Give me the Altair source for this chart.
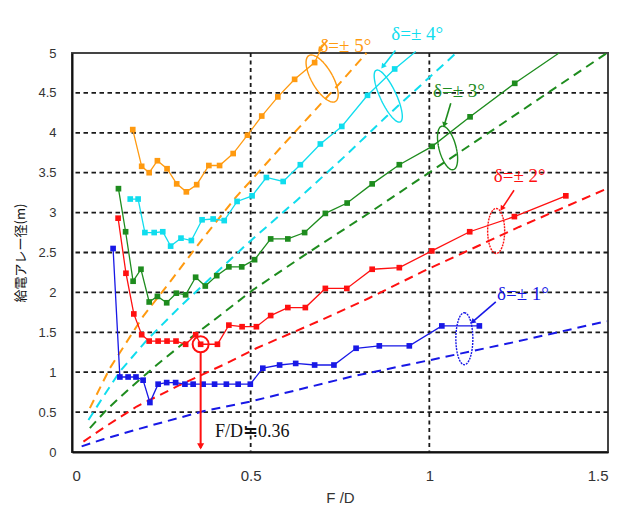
import math

import altair as alt
import pandas as pd

# ---- measured feed-array diameter (m) against F/D, one pair per pointing error ----
D5_X = [0.170, 0.195, 0.216, 0.239, 0.266, 0.293, 0.320, 0.349, 0.383, 0.413, 0.451,
        0.491, 0.531, 0.576, 0.623, 0.679]
D5_Y = [4.04, 3.58, 3.50, 3.65, 3.55, 3.36, 3.26, 3.35, 3.59, 3.59, 3.74,
        3.97, 4.21, 4.45, 4.67, 4.88]
D5_END = [(0.697, 5.05)]

D4_X = [0.163, 0.185, 0.204, 0.230, 0.254, 0.276, 0.305, 0.334, 0.364, 0.395, 0.426,
        0.462, 0.504, 0.544, 0.591, 0.639, 0.695, 0.755, 0.827, 0.903]
D4_Y = [3.17, 3.17, 2.75, 2.75, 2.76, 2.58, 2.68, 2.65, 2.91, 2.92, 2.90,
        3.14, 3.21, 3.44, 3.39, 3.60, 3.86, 4.08, 4.47, 4.80]
D4_END = [(0.962, 5.02)]

D3_X = [0.130, 0.150, 0.171, 0.193, 0.216, 0.239, 0.265, 0.292, 0.318, 0.346, 0.373,
        0.405, 0.439, 0.475, 0.511, 0.556, 0.604, 0.651, 0.709, 0.770, 0.840, 0.916,
        1.008, 1.114, 1.239]
D3_Y = [3.30, 2.76, 2.14, 2.29, 1.88, 1.95, 1.87, 1.99, 1.97, 2.19, 2.08,
        2.21, 2.32, 2.32, 2.41, 2.67, 2.67, 2.75, 2.99, 3.12, 3.36, 3.60,
        3.83, 4.20, 4.62]
D3_END = [(1.363, 5.00)]

D2_X = [0.129, 0.151, 0.173, 0.195, 0.216, 0.241, 0.266, 0.291, 0.318, 0.346, 0.360,
        0.407, 0.439, 0.476, 0.516, 0.556, 0.604, 0.653, 0.709, 0.769, 0.840, 0.916,
        1.007, 1.113, 1.238, 1.382]
D2_Y = [2.93, 2.24, 1.73, 1.47, 1.39, 1.39, 1.39, 1.39, 1.35, 1.47, 1.35,
        1.35, 1.59, 1.57, 1.57, 1.71, 1.81, 1.81, 2.05, 2.05, 2.29, 2.31,
        2.52, 2.76, 2.95, 3.21]

D1_X = [0.115, 0.134, 0.157, 0.179, 0.199, 0.218, 0.241, 0.265, 0.290, 0.316, 0.339,
        0.367, 0.399, 0.432, 0.465, 0.499, 0.534, 0.581, 0.626, 0.679, 0.733, 0.795,
        0.860, 0.944, 1.035, 1.140]
D1_Y = [2.55, 0.94, 0.94, 0.94, 0.90, 0.62, 0.85, 0.87, 0.87, 0.85, 0.85,
        0.85, 0.85, 0.85, 0.85, 0.85, 1.05, 1.09, 1.11, 1.09, 1.09, 1.30,
        1.33, 1.33, 1.58, 1.58]

# ---- theoretical curves (dashed) ----
T5_X = [0.050, 0.106, 0.199, 0.274, 0.367, 0.460, 0.581, 0.749, 0.824]
T5_Y = [0.55, 1.05, 1.70, 2.13, 2.68, 3.20, 3.80, 4.62, 5.00]
T4_X = [0.046, 0.087, 0.134, 0.209, 0.302, 0.488, 0.628, 0.767, 0.879, 1.075]
T4_Y = [0.40, 0.69, 1.01, 1.40, 1.82, 2.60, 3.15, 3.72, 4.20, 5.00]
T3_X = [0.050, 0.097, 0.162, 0.237, 0.311, 0.385, 0.506, 0.665, 0.823, 1.009, 1.186, 1.497]
T3_Y = [0.30, 0.53, 0.80, 1.09, 1.36, 1.61, 2.03, 2.51, 2.97, 3.53, 4.06, 5.00]
T2_X = [0.032, 0.087, 0.181, 0.302, 0.432, 0.516, 0.711, 0.832, 0.981, 1.251, 1.497]
T2_Y = [0.13, 0.30, 0.57, 0.84, 1.11, 1.30, 1.68, 1.93, 2.26, 2.82, 3.30]
T1_X = [0.027, 0.087, 0.227, 0.367, 0.497, 0.777, 1.000, 1.251, 1.497]
T1_Y = [0.07, 0.16, 0.34, 0.51, 0.63, 0.94, 1.15, 1.39, 1.64]

SERIES = ["±5°", "±4°", "±3°", "±2°", "±1°"]
COLORS = ["#FF9A10", "#10DDEE", "#1E8C1E", "#FF1010", "#1818E6"]

# ---- callouts ----
LABEL_TEXT = ["δ=± 5°", "δ=± 4°", "δ=± 3°", "δ=± 2°", "δ=± 1°"]
LABEL_X = [0.765, 0.966, 1.083, 1.253, 1.262]
LABEL_Y = [5.09, 5.24, 4.52, 3.46, 1.98]
ARROW_X0 = [0.715, 0.905, 1.060, 1.237, 1.186]
ARROW_Y0 = [5.16, 5.03, 4.37, 3.28, 1.88]
ARROW_X1 = [0.693, 0.870, 1.042, 1.203, 1.121]
ARROW_Y1 = [5.04, 4.83, 4.10, 3.05, 1.63]
ELL_X = [0.700, 0.885, 1.051, 1.187, 1.098]
ELL_Y = [4.68, 4.46, 3.81, 2.77, 1.42]
ELL_A = [26.5, 28.5, 22.5, 22.5, 26.0]
ELL_B = [10.5, 8.0, 8.5, 8.5, 8.5]
ELL_ANGLE = [330, 335, 345, 0, 0]
ELL_DASH = [[1, 0], [1, 0], [1, 0], [2, 1], [2, 1]]

FD_OPT = 0.36
FD_OPT_D = 1.35
FD_TEXT = "F/D≒0.36"

GRID_X = [0.5, 1.0]
GRID_Y = [0.5, 1.0, 1.5, 2.0, 2.5, 3.0, 3.5, 4.0, 4.5]
X_TICKS = [0, 0.5, 1, 1.5]
Y_TICKS = [0, 0.5, 1, 1.5, 2, 2.5, 3, 3.5, 4, 4.5, 5]

W, H = 536, 399
X_MAX, Y_MAX = 1.5, 5.0

x_scale = alt.Scale(domain=[0, X_MAX], nice=False, zero=False)
y_scale = alt.Scale(domain=[0, Y_MAX], nice=False, zero=False)
x_axis = alt.Axis(values=X_TICKS, format="~g", grid=False, ticks=False,
                  domainColor="#111", domainWidth=2, labelFontSize=15,
                  labelColor="#333", labelPadding=16, labelFont="Liberation Sans",
                  title="F /D", titleFontSize=15, titleFontWeight="normal",
                  titleColor="#333", titlePadding=7, titleFont="Liberation Sans")
y_axis = alt.Axis(values=Y_TICKS, format="~g", grid=False, ticks=False,
                  domainColor="#111", domainWidth=2, labelFontSize=13,
                  labelColor="#333", labelPadding=16, labelFont="Liberation Sans",
                  title="給電アレー径(m)", titleFont="Noto Sans CJK JP",
                  titleFontSize=13, titleFontWeight="normal", titleColor="#111",
                  titleX=-52, titleY=H / 2, titleAlign="center",
                  titleBaseline="middle", titleAngle=-90)


def X(field, **kw):
    return alt.X(field, scale=x_scale, axis=x_axis, **kw)


def Y(field, **kw):
    return alt.Y(field, scale=y_scale, axis=y_axis, **kw)


color = alt.Color("delta:N", scale=alt.Scale(domain=SERIES, range=COLORS), legend=None)


def frame(key, xs, ys):
    return pd.DataFrame({"fd": xs, "d": ys, "delta": key})


measured = [(SERIES[0], D5_X, D5_Y, D5_END), (SERIES[1], D4_X, D4_Y, D4_END),
            (SERIES[2], D3_X, D3_Y, D3_END), (SERIES[3], D2_X, D2_Y, []),
            (SERIES[4], D1_X, D1_Y, [])]
theory = [(SERIES[0], T5_X, T5_Y), (SERIES[1], T4_X, T4_Y), (SERIES[2], T3_X, T3_Y),
          (SERIES[3], T2_X, T2_Y), (SERIES[4], T1_X, T1_Y)]

marks_df = pd.concat([frame(k, xs, ys) for k, xs, ys, _ in measured], ignore_index=True)
lines_df = pd.concat(
    [frame(k, xs + [p[0] for p in end], ys + [p[1] for p in end]) for k, xs, ys, end in measured],
    ignore_index=True)
theory_df = pd.concat([frame(k, xs, ys) for k, xs, ys in theory], ignore_index=True)

# dotted grid
grid_h = alt.Chart(pd.DataFrame({"gy": GRID_Y})).mark_rule(
    color="#1a1a1a", strokeWidth=1.8, strokeDash=[4.5, 3.5]).encode(y=Y("gy:Q"))
grid_v = alt.Chart(pd.DataFrame({"gx": GRID_X})).mark_rule(
    color="#1a1a1a", strokeWidth=1.8, strokeDash=[4, 3.5]).encode(x=X("gx:Q"))

theory_lines = alt.Chart(theory_df).mark_line(strokeWidth=2, strokeDash=[9, 6]).encode(
    x=X("fd:Q"), y=Y("d:Q"), color=color, detail="delta:N")

meas_lines = alt.Chart(lines_df).mark_line(strokeWidth=1.3).encode(
    x=X("fd:Q"), y=Y("d:Q"), color=color, detail="delta:N")
meas_points = alt.Chart(marks_df).mark_square(size=32, opacity=1).encode(
    x=X("fd:Q"), y=Y("d:Q"), color=color)

# ellipses drawn as custom symbols (unit box -1..1)
K = 0.5523
layers = [grid_h, grid_v, theory_lines, meas_lines, meas_points]
for i in range(5):
    r = ELL_B[i] / ELL_A[i]
    path = (f"M0,-1C{K*r:.4f},-1 {r:.4f},-{K:.4f} {r:.4f},0"
            f"C{r:.4f},{K:.4f} {K*r:.4f},1 0,1"
            f"C-{K*r:.4f},1 -{r:.4f},{K:.4f} -{r:.4f},0"
            f"C-{r:.4f},-{K:.4f} -{K*r:.4f},-1 0,-1Z")
    ell = alt.Chart(pd.DataFrame({"fd": [ELL_X[i]], "d": [ELL_Y[i]]})).mark_point(
        shape=path, size=(2 * ELL_A[i]) ** 2, angle=ELL_ANGLE[i], filled=False,
        color=COLORS[i], strokeWidth=1.4, strokeDash=ELL_DASH[i], opacity=1
    ).encode(x=X("fd:Q"), y=Y("d:Q"))
    layers.append(ell)

# callout arrows from labels to ellipses
px_x, px_y = W / X_MAX, H / Y_MAX
head_angles = []
for i in range(5):
    dx = (ARROW_X1[i] - ARROW_X0[i]) * px_x
    dy = -(ARROW_Y1[i] - ARROW_Y0[i]) * px_y
    head_angles.append(math.degrees(math.atan2(dx, -dy)) % 360)

arrow_df = pd.DataFrame({"x0": ARROW_X0, "y0": ARROW_Y0, "x1": ARROW_X1, "y1": ARROW_Y1,
                         "delta": SERIES, "ang": head_angles})
arrow_shafts = alt.Chart(arrow_df).mark_rule(strokeWidth=1.6).encode(
    x=X("x0:Q"), y=Y("y0:Q"), x2="x1:Q", y2="y1:Q", color=color)
arrow_heads = alt.Chart(arrow_df).mark_point(
    shape="triangle-up", size=35, filled=True, opacity=1).encode(
    x=X("x1:Q"), y=Y("y1:Q"), color=color,
    angle=alt.Angle("ang:Q", scale=None))
layers += [arrow_shafts, arrow_heads]

label_df = pd.DataFrame({"lx": LABEL_X, "ly": LABEL_Y, "txt": LABEL_TEXT, "delta": SERIES})
labels = alt.Chart(label_df).mark_text(
    font="Liberation Serif", fontSize=19, align="center", baseline="middle").encode(
    x=X("lx:Q"), y=Y("ly:Q"), text="txt:N", color=color)
layers.append(labels)

# optimum F/D marker
opt_df = pd.DataFrame({"fd": [FD_OPT], "d": [FD_OPT_D], "top": [FD_OPT_D - 0.1],
                       "bot": [0.05], "head": [0.07]})
opt_circle = alt.Chart(opt_df).mark_point(
    shape="circle", size=256, filled=False, color="#FF1010", strokeWidth=2, opacity=1
).encode(x=X("fd:Q"), y=Y("d:Q"))
opt_rule = alt.Chart(opt_df).mark_rule(color="#FF1010", strokeWidth=2).encode(
    x=X("fd:Q"), y=Y("top:Q"), y2="bot:Q")
opt_head = alt.Chart(opt_df).mark_point(
    shape="triangle-down", size=50, filled=True, color="#FF1010", opacity=1
).encode(x=X("fd:Q"), y=Y("head:Q"))
opt_text = alt.Chart(pd.DataFrame({"tx": [0.40], "ty": [0.25], "t": [FD_TEXT]})).mark_text(
    font="Liberation Serif", fontSize=18, align="left", baseline="middle", color="#111"
).encode(x=X("tx:Q"), y=Y("ty:Q"), text="t:N")
layers += [opt_circle, opt_rule, opt_head, opt_text]

chart = alt.layer(*layers).properties(
    width=W, height=H,
    autosize=alt.AutoSizeParams(type="none"),
    padding={"left": 72, "top": 53, "right": 22, "bottom": 54},
    background="white",
).configure_view(stroke="#444", strokeWidth=2)

chart.save("out.html", embed_options={"renderer": "svg", "actions": False})
